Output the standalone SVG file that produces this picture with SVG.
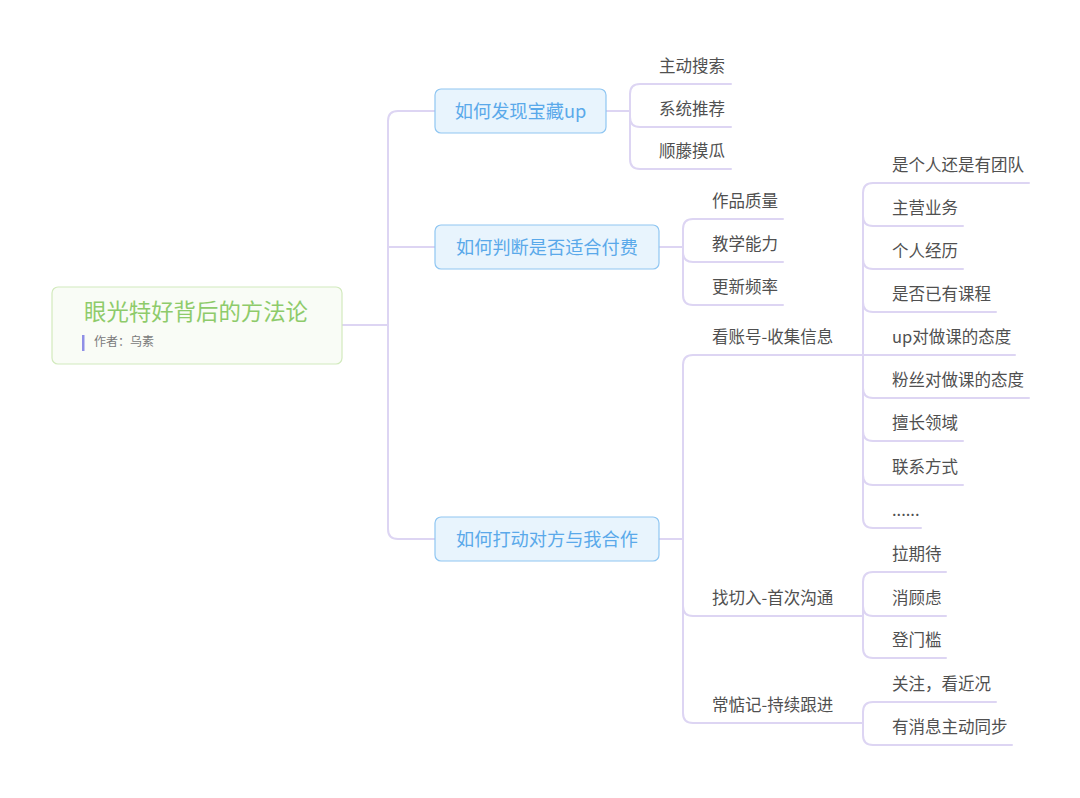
<svg xmlns="http://www.w3.org/2000/svg" width="1080" height="798" viewBox="0 0 1080 798">
<style>
.ln{fill:none;stroke:#ddd5f3;stroke-width:2;stroke-linecap:round}
.nb{fill:#e8f4fd;stroke:#8fc6f2;stroke-width:1.2}
.nt{font-family:"Noto Sans CJK SC","Noto Sans",sans-serif;font-size:18.2px;fill:#5aa9ea;text-anchor:middle}
.ct{font-family:"Noto Sans CJK SC","Noto Sans",sans-serif;font-size:16.5px;fill:#505050}
</style>
<rect width="1080" height="798" fill="#ffffff"/>
<g id="connectors">
<path class="ln" d="M342 325 H388"/>
<path class="ln" d="M435 111 H398 Q388 111 388 121 V529 Q388 539 398 539 H435"/>
<path class="ln" d="M388 247 H435"/>
<path class="ln" d="M606 111 H630"/>
<path class="ln" d="M731 84 H640 Q630 84 630 94 V159 Q630 169 640 169 H731"/>
<path class="ln" d="M630 117 Q630 127 640 127 H731"/>
<path class="ln" d="M659 247 H683"/>
<path class="ln" d="M783 219 H693 Q683 219 683 229 V295 Q683 305 693 305 H783"/>
<path class="ln" d="M683 252 Q683 262 693 262 H783"/>
<path class="ln" d="M659 539 H683"/>
<path class="ln" d="M863 355 H693 Q683 355 683 365 V713 Q683 723 693 723 H863"/>
<path class="ln" d="M683 606 Q683 616 693 616 H863"/>
<path class="ln" d="M1029 183 H873 Q863 183 863 193 V518 Q863 528 873 528 H921"/>
<path class="ln" d="M863 216 Q863 226 873 226 H963"/>
<path class="ln" d="M863 259 Q863 269 873 269 H963"/>
<path class="ln" d="M863 302 Q863 312 873 312 H996"/>
<path class="ln" d="M863 355 H1015"/>
<path class="ln" d="M863 388 Q863 398 873 398 H1029"/>
<path class="ln" d="M863 431 Q863 441 873 441 H963"/>
<path class="ln" d="M863 475 Q863 485 873 485 H963"/>
<path class="ln" d="M946 572 H873 Q863 572 863 582 V648 Q863 658 873 658 H946"/>
<path class="ln" d="M863 606 Q863 616 873 616 H946"/>
<path class="ln" d="M996 702 H873 Q863 702 863 712 V735 Q863 745 873 745 H1012"/>
</g>
<g id="root">
<rect x="52" y="287" width="290" height="77" rx="6" fill="#f9fcf6" stroke="#d2eabd" stroke-width="1.2"/>
<text x="196" y="320" font-family="'Noto Sans CJK SC','Noto Sans',sans-serif" font-size="22.4" fill="#8ecb6a" text-anchor="middle">眼光特好背后的方法论</text>
<rect x="82" y="335" width="2.5" height="16" fill="#8f8fe6"/>
<text x="94" y="346" font-family="'Noto Sans CJK SC','Noto Sans',sans-serif" font-size="12" fill="#7a7a7a">作者：乌素</text>
</g>
<g id="n1">
<rect class="nb" x="435" y="89" width="171" height="44" rx="6"/>
<text class="nt" x="520.5" y="117.5">如何发现宝藏up</text>
</g>
<g id="n2">
<rect class="nb" x="435" y="225" width="224" height="44" rx="6"/>
<text class="nt" x="547" y="253.5">如何判断是否适合付费</text>
</g>
<g id="n3">
<rect class="nb" x="435" y="517" width="224" height="44" rx="6"/>
<text class="nt" x="547" y="545.5">如何打动对方与我合作</text>
</g>
<g id="n1-children">
<text class="ct" x="659" y="72">主动搜索</text>
<text class="ct" x="659" y="115">系统推荐</text>
<text class="ct" x="659" y="157">顺藤摸瓜</text>
</g>
<g id="n2-children">
<text class="ct" x="712" y="207">作品质量</text>
<text class="ct" x="712" y="250">教学能力</text>
<text class="ct" x="712" y="293">更新频率</text>
</g>
<g id="n3-children">
<text class="ct" x="712" y="343">看账号-收集信息</text>
<text class="ct" x="712" y="604">找切入-首次沟通</text>
<text class="ct" x="712" y="711">常惦记-持续跟进</text>
</g>
<g id="account-children">
<text class="ct" x="892" y="171">是个人还是有团队</text>
<text class="ct" x="892" y="214">主营业务</text>
<text class="ct" x="892" y="257">个人经历</text>
<text class="ct" x="892" y="300">是否已有课程</text>
<text class="ct" x="892" y="343">up对做课的态度</text>
<text class="ct" x="892" y="386">粉丝对做课的态度</text>
<text class="ct" x="892" y="429">擅长领域</text>
<text class="ct" x="892" y="473">联系方式</text>
<text class="ct" x="892" y="516">......</text>
</g>
<g id="entry-children">
<text class="ct" x="892" y="560">拉期待</text>
<text class="ct" x="892" y="604">消顾虑</text>
<text class="ct" x="892" y="646">登门槛</text>
</g>
<g id="follow-children">
<text class="ct" x="892" y="690">关注，看近况</text>
<text class="ct" x="892" y="733">有消息主动同步</text>
</g>
</svg>
